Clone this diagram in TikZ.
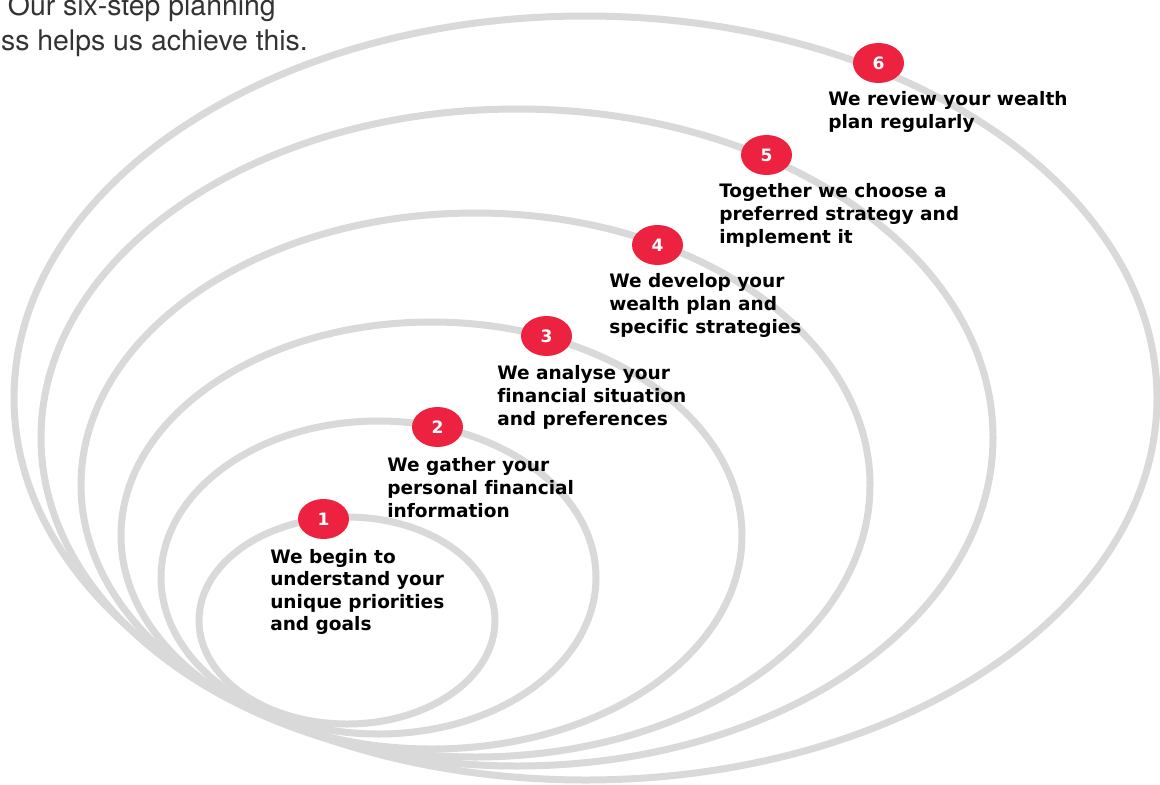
\documentclass[tikz,border=0pt]{standalone}
\usepackage{fontspec}
\setmainfont[Ligatures=NoCommon]{DejaVu Sans}
\newfontfamily\herosfont{TeX Gyre Heros}
\usetikzlibrary{shapes.geometric}
\definecolor{ringgray}{HTML}{D9D9D9}
\definecolor{badgered}{HTML}{EC2240}
\definecolor{introgray}{HTML}{333333}
\begin{document}
\begin{tikzpicture}[x=0.75pt,y=-0.75pt,
  ring/.style={draw=ringgray,line width=5.25pt},
  badge/.style={ellipse,fill=badgered,minimum width=38.25pt,minimum height=30pt,inner sep=0pt,text=white,font=\bfseries\fontsize{12.8pt}{14pt}\selectfont},
  steptext/.style={anchor=base west,align=left,inner sep=0pt,font=\bfseries\fontsize{13.9pt}{16.9pt}\selectfont},
  intro/.style={anchor=base east,inner sep=0pt,text=introgray,font=\herosfont\fontsize{21.3pt}{26pt}\selectfont}]
\useasboundingbox (0,0) rectangle (1160,785);
\fill[white] (0,0) rectangle (1160,785);
% rings
\draw[ring] (347,620.5) ellipse [x radius=148, y radius=103.5];
\draw[ring] (378.5,577.5) ellipse [x radius=217.5, y radius=156.5];
\draw[ring] (431.5,535.5) ellipse [x radius=310.5, y radius=213.5];
\draw[ring] (475.5,485) ellipse [x radius=394.5, y radius=272];
\draw[ring] (517,437.5) ellipse [x radius=476, y radius=328.5];
\draw[ring] (585.5,398) ellipse [x radius=571.5, y radius=382];
% intro text
\node[intro] (introA) at (276,15) {Our six-step planning};
\node[intro] (introB) at (308,50) {ss helps us achieve this.};
% badges
\node[badge] (b1) at (323.5,519) {1};
\node[badge] (b2) at (437.5,427) {2};
\node[badge] (b3) at (546.5,336) {3};
\node[badge] (b4) at (657.5,245) {4};
\node[badge] (b5) at (766.5,155) {5};
\node[badge] (b6) at (878.5,63) {6};
% step texts (anchored at the baseline of their last line)
\node[steptext] (t1) at (270,630.6) {We begin to\\understand your\\unique priorities\\and goals};
\node[steptext] (t2) at (387,517) {We gather your\\personal financial\\information};
\node[steptext] (t3) at (497,425) {We analyse your\\financial situation\\and preferences};
\node[steptext] (t4) at (609,333) {We develop your\\wealth plan and\\specific strategies};
\node[steptext] (t5) at (719,243) {Together we choose a\\preferred strategy and\\implement it};
\node[steptext] (t6) at (828,128.5) {We review your wealth\\plan regularly};
\end{tikzpicture}
\end{document}
